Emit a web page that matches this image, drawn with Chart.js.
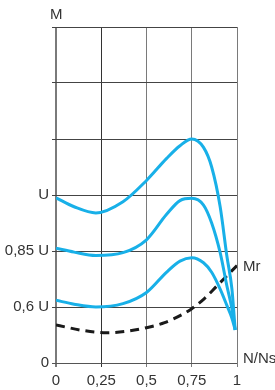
<!DOCTYPE html>
<html>
<head>
<meta charset="utf-8">
<script src="https://cdn.jsdelivr.net/npm/chart.js@4/dist/chart.umd.min.js"></script>
<style>
  html, body { margin: 0; padding: 0; background: #fff; }
  #wrap { width: 275px; height: 390px; position: relative; }
</style>
</head>
<body>
<div id="wrap"><canvas id="chart"></canvas></div>
<script>
// speed ratio N/Ns (x) and torque in grid units (y)
const xTicks = [0, 0.25, 0.5, 0.75, 1];
const xTickLabels = ['0', '0,25', '0,5', '0,75', '1'];
const yTickLabels = ['0', '0,6 U', '0,85 U', 'U', '', '', ''];

const speed = [0, 0.1, 0.22, 0.37, 0.5, 0.61, 0.685, 0.75, 0.815, 0.86, 0.907, 0.944, 0.972, 0.99];
const torqueU = [2.95, 2.79, 2.68, 2.88, 3.26, 3.65, 3.88, 4.0, 3.85, 3.5, 2.79, 1.91, 1.32, 0.59];
const torque085 = [2.05, 1.98, 1.92, 1.97, 2.2, 2.65, 2.9, 2.94, 2.82, 2.5, 1.97, 1.38, 0.97, 0.59];
const torque06 = [1.12, 1.05, 1.0, 1.06, 1.26, 1.62, 1.82, 1.88, 1.79, 1.62, 1.32, 1.03, 0.8, 0.59];

const speedMr = [0, 0.15, 0.28, 0.4, 0.5, 0.6, 0.7, 0.75, 0.82, 0.89, 1.0];
const torqueMr = [0.68, 0.58, 0.54, 0.57, 0.63, 0.72, 0.87, 0.97, 1.15, 1.38, 1.74];

const BLUE = '#18b0e8';
const toPts = (xs, ys) => xs.map((x, i) => ({ x: x, y: ys[i] }));

const blueLine = (label, ys) => ({
  label: label,
  data: toPts(speed, ys),
  borderColor: BLUE,
  borderWidth: 3,
  pointRadius: 0,
  fill: false,
  cubicInterpolationMode: 'monotone'
});

// axis labels M, N/Ns and the Mr tag
const textLabels = {
  id: 'textLabels',
  afterDraw(chart) {
    const { ctx, chartArea, scales } = chart;
    ctx.save();
    ctx.fillStyle = '#333';
    ctx.font = '15px "Liberation Sans", Arial, sans-serif';
    ctx.textBaseline = 'middle';
    ctx.textAlign = 'left';
    ctx.fillText('M', chartArea.left - 6, chartArea.top - 12);
    ctx.fillText('N/Ns', chartArea.right + 6, scales.y.getPixelForValue(0) - 4);
    const meta = chart.getDatasetMeta(3);
    const last = meta.data[meta.data.length - 1];
    ctx.fillText('Mr', last.x + 6, last.y + 1);
    ctx.restore();
  }
};

new Chart(document.getElementById('chart'), {
  type: 'line',
  data: {
    datasets: [
      blueLine('U', torqueU),
      blueLine('0,85 U', torque085),
      blueLine('0,6 U', torque06),
      {
        label: 'Mr',
        data: toPts(speedMr, torqueMr),
        borderColor: '#1a1a1a',
        borderWidth: 3,
        borderDash: [9, 6],
        pointRadius: 0,
        fill: false,
        cubicInterpolationMode: 'monotone'
      }
    ]
  },
  options: {
    responsive: true,
    maintainAspectRatio: false,
    animation: false,
    layout: { padding: { top: 27, right: 38, left: 0, bottom: 0 } },
    plugins: { legend: { display: false }, tooltip: { enabled: false } },
    scales: {
      x: {
        type: 'linear',
        min: 0,
        max: 1,
        afterBuildTicks: (scale) => { scale.ticks = xTicks.map(v => ({ value: v })); },
        afterFit: (scale) => { scale.height = 27; },
        border: { display: false },
        grid: {
          color: (c) => c.index === 1 ? '#333' : '#7a7a7a',
          lineWidth: (c) => c.index === 0 ? 2 : 1,
          tickLength: 4
        },
        ticks: {
          color: '#333',
          padding: 5,
          maxRotation: 0,
          font: { family: '"Liberation Sans", Arial, sans-serif', size: 15 },
          callback: (v, i) => xTickLabels[i]
        }
      },
      y: {
        type: 'linear',
        min: 0,
        max: 6,
        afterBuildTicks: (scale) => { scale.ticks = yTickLabels.map((t, i) => ({ value: i })); },
        afterFit: (scale) => { scale.width = 56; },
        border: { display: false },
        grid: {
          color: (c) => c.index === 0 ? '#555' : '#444',
          lineWidth: 1,
          tickLength: 4
        },
        ticks: {
          color: '#333',
          padding: 3,
          font: { family: '"Liberation Sans", Arial, sans-serif', size: 15 },
          callback: (v, i) => yTickLabels[i]
        }
      }
    }
  },
  plugins: [textLabels]
});
</script>
</body>
</html>
